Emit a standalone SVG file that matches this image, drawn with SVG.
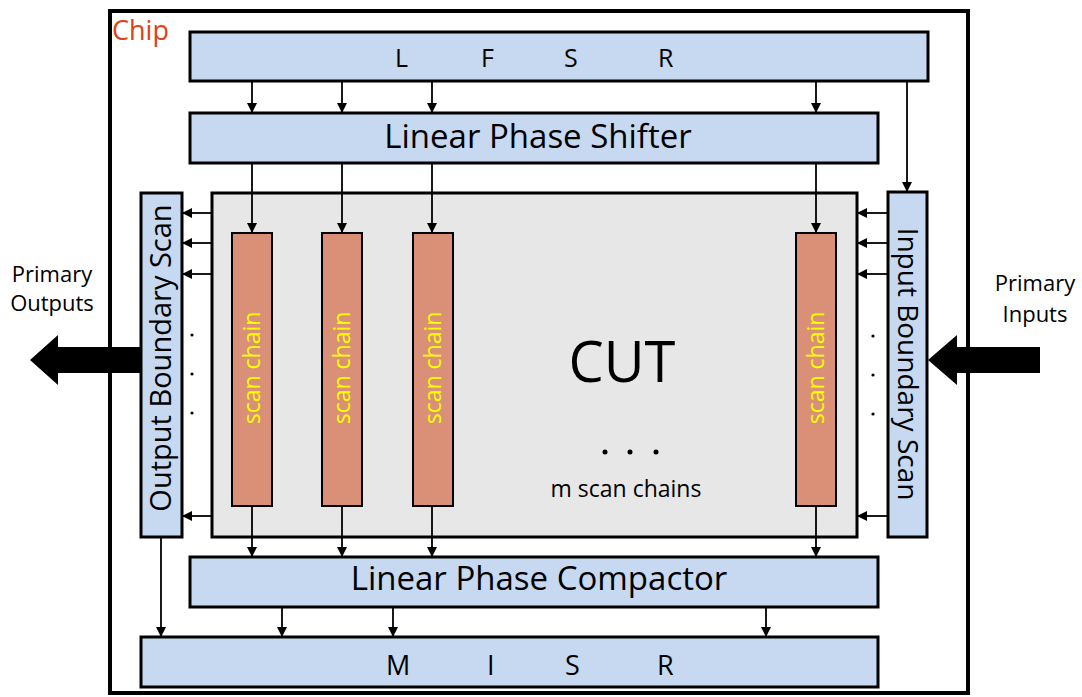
<svg xmlns="http://www.w3.org/2000/svg" width="1082" height="697" viewBox="0 0 1082 697">
<defs>
<marker id="ah" markerWidth="10" markerHeight="10" refX="9" refY="5" orient="auto" markerUnits="userSpaceOnUse">
<path d="M0,0 L10,5 L0,10 Z" fill="#000"/>
</marker>
<style>
.blue{fill:#C6D9F1;stroke:#000;stroke-width:3}
.chain{fill:#D99077;stroke:#000;stroke-width:2}
.t{font-family:"Open Sans","Liberation Sans",sans-serif;fill:#000}
.sc{font-family:"Open Sans","Liberation Sans",sans-serif;fill:#FFFF00;font-size:23px;text-anchor:middle}
.c{stroke:#000;stroke-width:1.8;fill:none;marker-end:url(#ah)}
.dot{fill:#000}
</style>
</defs>
<rect x="0" y="0" width="1082" height="697" fill="#fff"/>
<g id="chip">
<rect x="110" y="11" width="858" height="682" fill="#fff" stroke="#000" stroke-width="4"/>
<text class="t" x="112" y="40" font-size="27" style="fill:#E0401A">Chip</text>
</g>
<g id="lfsr">
<rect class="blue" x="190" y="32" width="738" height="49"/>
<text class="t" y="67" font-size="25"><tspan x="395">L</tspan><tspan x="481">F</tspan><tspan x="564">S</tspan><tspan x="658">R</tspan></text>
</g>
<g id="lps">
<rect class="blue" x="190" y="113" width="688" height="50"/>
<text class="t" x="538" y="148" font-size="33" text-anchor="middle">Linear Phase Shifter</text>
</g>
<g id="cut">
<rect x="212" y="193" width="645" height="344" fill="#E7E7E7" stroke="#000" stroke-width="3"/>
<text class="t" x="622" y="382" font-size="56" text-anchor="middle">CUT</text>
<circle class="dot" cx="605" cy="452" r="2.5"/>
<circle class="dot" cx="630" cy="452" r="2.5"/>
<circle class="dot" cx="656" cy="452" r="2.5"/>
<text class="t" x="626" y="497" font-size="23" text-anchor="middle">m scan chains</text>
</g>
<g id="chain1"><rect class="chain" x="232" y="233" width="40" height="273"/><text class="sc" transform="translate(260,368) rotate(-90)">scan chain</text></g>
<g id="chain2"><rect class="chain" x="322" y="233" width="40" height="273"/><text class="sc" transform="translate(350,368) rotate(-90)">scan chain</text></g>
<g id="chain3"><rect class="chain" x="413" y="233" width="40" height="273"/><text class="sc" transform="translate(441,368) rotate(-90)">scan chain</text></g>
<g id="chain4"><rect class="chain" x="796" y="233" width="40" height="273"/><text class="sc" transform="translate(824,368) rotate(-90)">scan chain</text></g>
<g id="obs">
<rect class="blue" x="141" y="193" width="41" height="344" stroke-width="2.5"/>
<text class="t" font-size="29" text-anchor="middle" transform="translate(171,358) rotate(-90)">Output Boundary Scan</text>
<circle class="dot" cx="192" cy="335" r="1.6"/>
<circle class="dot" cx="192" cy="374" r="1.6"/>
<circle class="dot" cx="192" cy="413" r="1.6"/>
</g>
<g id="ibs">
<rect class="blue" x="888" y="192" width="39" height="345" stroke-width="2.5"/>
<text class="t" font-size="28" text-anchor="middle" transform="translate(898,364) rotate(90)">Input Boundary Scan</text>
<circle class="dot" cx="873" cy="336" r="1.6"/>
<circle class="dot" cx="873" cy="375" r="1.6"/>
<circle class="dot" cx="873" cy="414" r="1.6"/>
</g>
<g id="lpc">
<rect class="blue" x="190" y="557" width="688" height="50"/>
<text class="t" x="539" y="590" font-size="33" text-anchor="middle">Linear Phase Compactor</text>
</g>
<g id="misr">
<rect class="blue" x="141" y="637" width="737" height="50"/>
<text class="t" y="675" font-size="27"><tspan x="386">M</tspan><tspan x="487">I</tspan><tspan x="565">S</tspan><tspan x="657">R</tspan></text>
</g>
<g id="po">
<path d="M141,347 L58,347 L58,335 L30,360 L58,385 L58,373 L141,373 Z" fill="#000"/>
<text class="t" font-size="22" text-anchor="middle"><tspan x="52" y="282">Primary</tspan><tspan x="52" y="311">Outputs</tspan></text>
</g>
<g id="pi">
<path d="M1040,347 L957,347 L957,335 L928,360 L957,385 L957,373 L1040,373 Z" fill="#000"/>
<text class="t" font-size="22" text-anchor="middle"><tspan x="1035" y="291">Primary</tspan><tspan x="1035" y="322">Inputs</tspan></text>
</g>
<g id="connectors">
<line class="c" x1="252" y1="82" x2="252" y2="112"/>
<line class="c" x1="342" y1="82" x2="342" y2="112"/>
<line class="c" x1="432" y1="82" x2="432" y2="112"/>
<line class="c" x1="816" y1="82" x2="816" y2="112"/>
<line class="c" x1="907" y1="82" x2="907" y2="191"/>
<line class="c" x1="252" y1="164" x2="252" y2="232"/>
<line class="c" x1="342" y1="164" x2="342" y2="232"/>
<line class="c" x1="432" y1="164" x2="432" y2="232"/>
<line class="c" x1="816" y1="164" x2="816" y2="232"/>
<line class="c" x1="212" y1="213" x2="183" y2="213"/>
<line class="c" x1="212" y1="243" x2="183" y2="243"/>
<line class="c" x1="212" y1="274" x2="183" y2="274"/>
<line class="c" x1="212" y1="516" x2="183" y2="516"/>
<line class="c" x1="888" y1="213" x2="858" y2="213"/>
<line class="c" x1="888" y1="243" x2="858" y2="243"/>
<line class="c" x1="888" y1="274" x2="858" y2="274"/>
<line class="c" x1="888" y1="516" x2="858" y2="516"/>
<line class="c" x1="252" y1="507" x2="252" y2="556"/>
<line class="c" x1="342" y1="507" x2="342" y2="556"/>
<line class="c" x1="432" y1="507" x2="432" y2="556"/>
<line class="c" x1="816" y1="507" x2="816" y2="556"/>
<line class="c" x1="161" y1="538" x2="161" y2="636"/>
<line class="c" x1="282" y1="608" x2="282" y2="636"/>
<line class="c" x1="393" y1="608" x2="393" y2="636"/>
<line class="c" x1="766" y1="608" x2="766" y2="636"/>
</g>
</svg>
